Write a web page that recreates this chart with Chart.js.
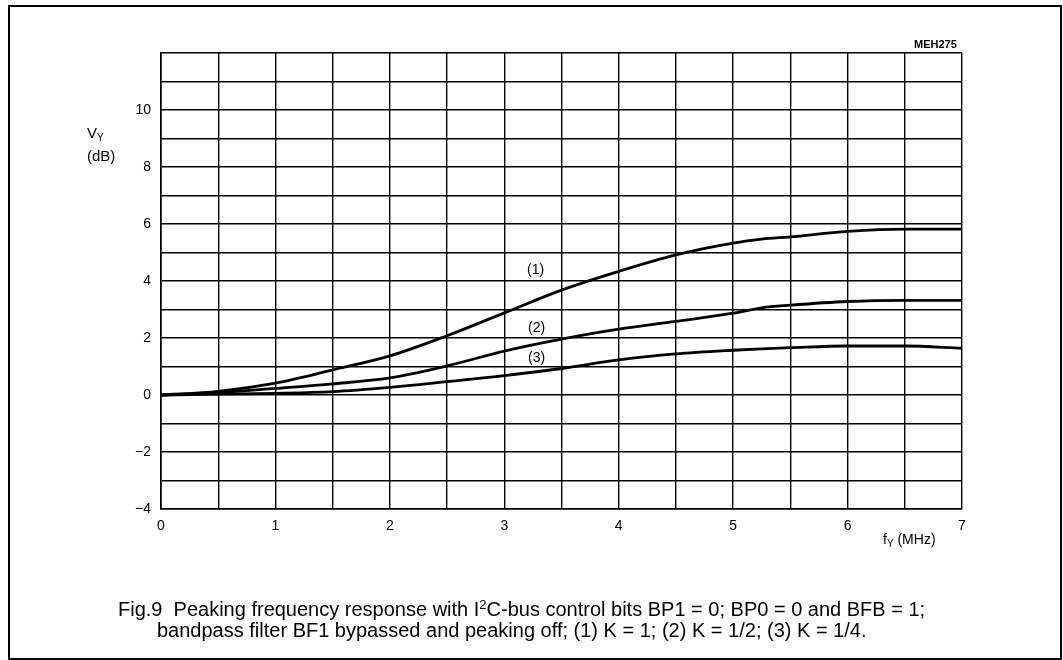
<!DOCTYPE html>
<html>
<head>
<meta charset="utf-8">
<script src="https://cdn.jsdelivr.net/npm/chart.js@4/dist/chart.umd.min.js"></script>
<style>
    body { margin: 0; background: #fff; }
    #wrap { position: relative; width: 1063px; height: 660px; overflow: hidden; font-family: "Liberation Sans", Arial, sans-serif; color: #000; }
    #chartBox { position: absolute; left: 0; top: 0; width: 1063px; height: 660px; }
    .frame { position: absolute; left: 8px; top: 5px; width: 1050px; height: 651px; border: 2px solid #000; }
    .lbl { position: absolute; white-space: nowrap; line-height: 1; font-size: 14px; }
    .lbl sub { font-size: 10px; vertical-align: -3px; }
    .axisName { font-size: 15px; }
    .code { font-size: 11px; font-weight: bold; }
    .caption { font-size: 20px; }
    .caption sup { font-size: 13px; vertical-align: 7px; }
</style>
</head>
<body>
<div id="wrap">
    <div class="frame"></div>
    <div id="chartBox"><canvas id="peakChart"></canvas></div>

    <div class="lbl code" style="left:914px; top:39px;">MEH275</div>
    <div class="lbl axisName" style="left:87px; top:125px;">V<sub>Y</sub></div>
    <div class="lbl axisName" style="left:87px; top:148px;">(dB)</div>
    <div class="lbl" style="left:527px; top:262px;">(1)</div>
    <div class="lbl" style="left:528px; top:320px;">(2)</div>
    <div class="lbl" style="left:528px; top:350px;">(3)</div>
    <div class="lbl" style="left:883px; top:532px;">f<sub>Y</sub> (MHz)</div>

    <div class="lbl caption" style="left:118px; top:598px;">Fig.9&nbsp;&nbsp;Peaking frequency response with I<sup>2</sup>C-bus control bits BP1 = 0; BP0 = 0 and BFB = 1;</div>
    <div class="lbl caption" style="left:157px; top:620px;">bandpass filter BF1 bypassed and peaking off; (1) K = 1; (2) K = 1/2; (3) K = 1/4.</div>
</div>

<script>
// =====================================================
// DATA
// =====================================================
const freqMHz = [0, 0.5, 1, 1.5, 2, 2.5, 3, 3.5, 4, 4.5, 5, 5.25, 5.5, 6, 6.5, 7];
const gainK1 = [0, 0.13, 0.42, 0.88, 1.37, 2.08, 2.88, 3.68, 4.34, 4.92, 5.33, 5.47, 5.55, 5.74, 5.82, 5.82];
const gainK2 = [0, 0.08, 0.23, 0.39, 0.6, 1.02, 1.54, 1.96, 2.31, 2.58, 2.87, 3.06, 3.15, 3.28, 3.32, 3.32];
const gainK3 = [0, 0.03, 0.06, 0.12, 0.27, 0.47, 0.68, 0.93, 1.23, 1.44, 1.57, 1.62, 1.66, 1.72, 1.72, 1.64];

const xTickLabels = [0, 1, 2, 3, 4, 5, 6, 7];
const yTickLabels = [-4, -2, 0, 2, 4, 6, 8, 10];

function toPoints(ys) {
    return freqMHz.map((f, i) => ({ x: f, y: ys[i] }));
}

function curve(ys) {
    return {
        data: toPoints(ys),
        borderColor: '#000',
        borderWidth: 2.8,
        pointRadius: 0,
        fill: false,
        cubicInterpolationMode: 'monotone'
    };
}

// =====================================================
// CHART
// =====================================================
const tickFont = { family: '"Liberation Sans", Arial, sans-serif', size: 14 };

new Chart(document.getElementById('peakChart'), {
    type: 'line',
    data: {
        datasets: [curve(gainK1), curve(gainK2), curve(gainK3)]
    },
    options: {
        responsive: true,
        maintainAspectRatio: false,
        animation: false,
        layout: {
            padding: { left: 121, right: 101, top: 53, bottom: 121 }
        },
        plugins: {
            legend: { display: false },
            tooltip: { enabled: false }
        },
        scales: {
            x: {
                type: 'linear',
                min: 0,
                max: 7,
                afterFit: (scale) => { scale.height = 30; },
                afterBuildTicks: (scale) => {
                    const t = [];
                    for (let v = 0; v <= 14; v++) t.push({ value: v / 2 });
                    scale.ticks = t;
                },
                ticks: {
                    color: '#000',
                    font: tickFont,
                    padding: 9,
                    maxRotation: 0,
                    autoSkip: false,
                    callback: (v) => xTickLabels.includes(v) ? String(v) : ''
                },
                grid: { color: '#000', lineWidth: 1.4, drawTicks: false },
                border: { color: '#000', width: 1.6 }
            },
            y: {
                type: 'linear',
                min: -4,
                max: 12,
                afterFit: (scale) => { scale.width = 40; },
                afterBuildTicks: (scale) => {
                    const t = [];
                    for (let v = -4; v <= 12; v++) t.push({ value: v });
                    scale.ticks = t;
                },
                ticks: {
                    color: '#000',
                    font: tickFont,
                    padding: 10,
                    autoSkip: false,
                    callback: (v) => yTickLabels.includes(v) ? String(v).replace('-', '\u2212') : ''
                },
                grid: { color: '#000', lineWidth: 1.4, drawTicks: false },
                border: { color: '#000', width: 1.6 }
            }
        }
    }
});
</script>
</body>
</html>
